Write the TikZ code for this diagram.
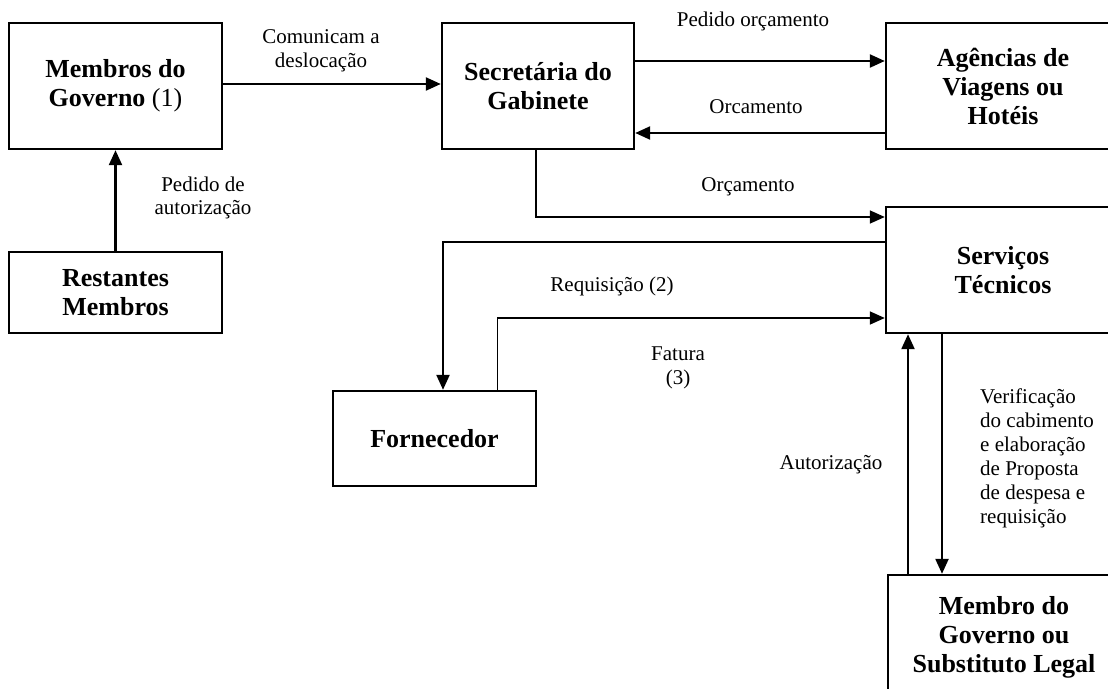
\documentclass[tikz,border=0pt]{standalone}
\usepackage{fontspec}
\setmainfont{Liberation Serif}
\usetikzlibrary{arrows.meta,calc}
\begin{document}
\begin{tikzpicture}[x=1pt,y=-1pt,
  box/.style={draw,line width=2.4pt,inner sep=0pt,align=center,
    font=\fontsize{26}{29}\selectfont\bfseries},
  lbl/.style={inner sep=0pt,align=center,font=\fontsize{21}{23.5}\selectfont},
  arr/.style={line width=2.3pt,-{Triangle[length=15pt,width=13pt]}},
  thinarr/.style={line width=1.7pt,-{Triangle[length=15pt,width=13pt]}}]
\useasboundingbox (0,0) rectangle (1108,688);
\clip (0,0) rectangle (1108,688);
\fill[white] (0,0) rectangle (1108,688);
% boxes
\node[box,minimum width=213pt,minimum height=126pt] (mg) at (115.5,86) {Membros do\\Governo \mdseries(1)};
\node[box,minimum width=192pt,minimum height=126pt] (sg) at (538,86) {Secretária do\\Gabinete};
\node[box,minimum width=234pt,minimum height=126pt] (av) at (1003,86) {Agências de\\Viagens ou\\Hotéis};
\node[box,minimum width=213pt,minimum height=81pt] (rm) at (115.5,292.5) {Restantes\\Membros};
\node[box,minimum width=203pt,minimum height=95pt] (fo) at (434.5,438.5) {Fornecedor};
\node[box,minimum width=234pt,minimum height=126pt] (st) at (1003,270) {Serviços\\Técnicos};
\node[box,minimum width=232pt,minimum height=124pt] (mb) at (1004,637) {Membro do\\Governo ou\\Substituto Legal};
% connectors
\draw[arr] ([yshift=2pt]mg.east) -- ([yshift=2pt]sg.west);
\draw[arr] ([yshift=25pt]sg.east) -- ([yshift=25pt]av.west);
\draw[arr] ([yshift=-47pt]av.west) -- ([yshift=-47pt]sg.east);
\draw[arr] (rm.north) -- (mg.south);
\draw[thinarr] ([xshift=-2pt]sg.south) |- ([yshift=53pt]st.west);
\draw[arr] ([yshift=28pt]st.west) -| ([xshift=8.5pt]fo.north);
\draw[thinarr] ([xshift=63pt]fo.north) |- ([yshift=-48pt]st.west);
\coordinate (a1) at ([xshift=-96pt]mb.north);
\coordinate (a2) at ([xshift=-61pt]st.south);
\draw[arr] (a1) -- (a1 |- st.south);
\draw[arr] (a2) -- (a2 |- mb.north);
% labels
\node[lbl] (l1) at (321,51) {Comunicam a\\deslocação};
\node[lbl] (l2) at (753,21) {Pedido orçamento};
\node[lbl] (l3) at (756,107) {Orcamento};
\node[lbl] (l4) at (748,187) {Orçamento};
\node[lbl] (l5) at (203,198) {Pedido de\\autorização};
\node[lbl] (l6) at (612,286) {Requisição (2)};
\node[lbl] (l7) at (678,368) {Fatura\\(3)};
\node[lbl] (l8) at (831,465) {Autorização};
\node[lbl,align=left,anchor=west,font=\fontsize{21}{24}\selectfont] (l9) at (980,458) {Verificação\\do cabimento\\e elaboração\\de Proposta\\de despesa e\\requisição};
\end{tikzpicture}
\end{document}
